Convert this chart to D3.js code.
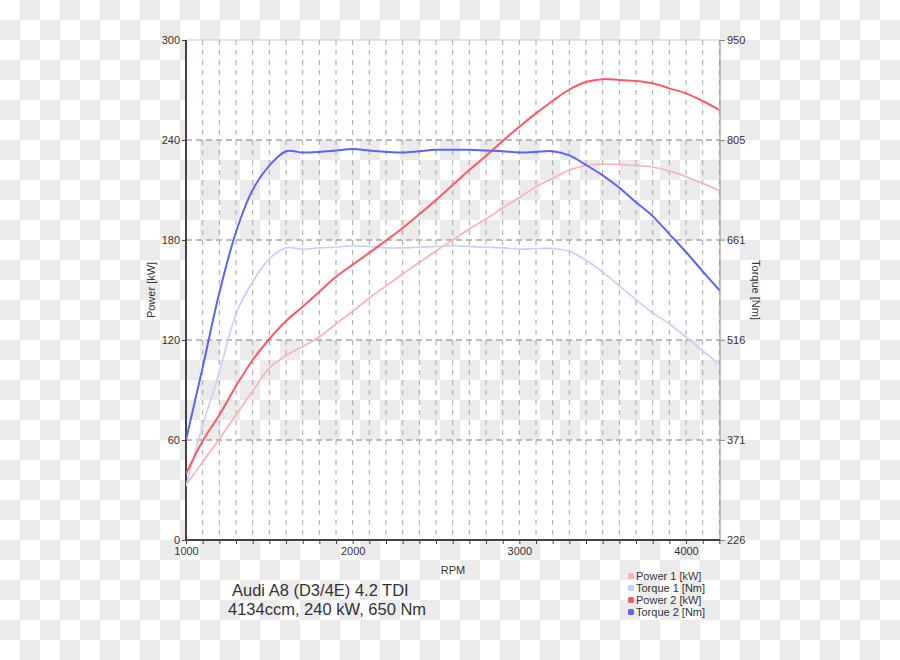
<!DOCTYPE html>
<html><head><meta charset="utf-8">
<script src="https://cdn.jsdelivr.net/npm/d3@7"></script>
<style>html,body{margin:0;padding:0;background:#fff}svg{display:block}text{font-family:"Liberation Sans",Arial,sans-serif;fill:#333}</style>
</head><body>
<script>
const rpm = [1000,1100,1200,1300,1400,1500,1600,1700,1800,1900,2000,2100,2200,2300,2400,2500,2600,2700,2800,2900,3000,3100,3200,3300,3400,3500,3600,3700,3800,3900,4000,4100,4200];
const power1 = [33,46.8,60.6,75,89.4,103.2,110.7,116.1,121.8,129.6,137.1,145.2,152.4,159.6,166.5,173.4,180,186.6,192.6,199.2,205.5,212,217,222,224.7,225.6,225.3,224.7,223.8,221.4,218,214,209.7];
const torque1 = [304,392,469,553,600,633,649,647,649,650,652,651,649,649,650,651,652,651,650,649,647,648,648,644,631,614,594,574,555,539,520,500,481];
const power2 = [39.6,59.4,75,92.4,108,120.6,131.4,140,149,157.9,165.2,172.3,179.7,187.2,195.4,204,213,222,230.4,239.4,248,256,263.4,270.3,274.8,276.5,276,275.4,274,271,268,263.4,258];
const torque2 = [371,476,584,672,733,768,789,787,788,790,792,790,788,787,789,791,791,791,790,789,787,788,789,783,769,754,736,715,695,669,643,615,588];
const powerTicks = [0,60,120,180,240,300];
const torqueTicks = [226,371,516,661,805,950];
const rpmLabels = [1000,2000,3000,4000];
const seriesNames = ["Power 1 [kW]","Torque 1 [Nm]","Power 2 [kW]","Torque 2 [Nm]"];
const seriesColors = ["#ffb0b0","#c4d0ff","#ff5a64","#5a64f5"];
const titleLines = ["Audi A8 (D3/4E) 4.2 TDI","4134ccm, 240 kW, 650 Nm"];

const W=900,H=660;
const svg=d3.select("body").append("svg").attr("width",W).attr("height",H);
const defs=svg.append("defs");
const pat=defs.append("pattern").attr("id","chk").attr("width",40).attr("height",40).attr("patternUnits","userSpaceOnUse");
pat.append("rect").attr("width",40).attr("height",40).attr("fill","#fff");
pat.append("rect").attr("x",20).attr("y",0).attr("width",20).attr("height",20).attr("fill","#ebebeb");
pat.append("rect").attr("x",0).attr("y",20).attr("width",20).attr("height",20).attr("fill","#ebebeb");
svg.append("rect").attr("width",W).attr("height",H).attr("fill","url(#chk)");

const L=186,R=720,T=40,B=540;
const x=d3.scaleLinear().domain([1000,4204]).range([L,R]);
const yP=d3.scaleLinear().domain([0,300]).range([B,T]);
const yT=d3.scaleLinear().domain([226,950]).range([B,T]);

// bands
const bands=[[240,300,0.93],[120,180,1],[0,60,1]];
svg.selectAll("rect.band").data(bands).enter().append("rect")
 .attr("x",L).attr("width",R-L).attr("y",d=>yP(d[1])).attr("height",d=>yP(d[0])-yP(d[1]))
 .attr("fill","#fff").attr("fill-opacity",d=>d[2]);

// vertical grid
const vg=d3.range(1100,4201,100);
svg.append("g").selectAll("line").data(vg).enter().append("line")
 .attr("x1",d=>x(d)).attr("x2",d=>x(d)).attr("y1",T).attr("y2",B)
 .attr("stroke","#a8a8a8").attr("stroke-width",1).attr("stroke-dasharray","5,5");
// horizontal grid
svg.append("g").selectAll("line").data(powerTicks.filter(d=>d>0&&d<300)).enter().append("line")
 .attr("x1",L).attr("x2",R).attr("y1",d=>yP(d)).attr("y2",d=>yP(d))
 .attr("stroke","#a8a8a8").attr("stroke-width",1.3).attr("stroke-dasharray","6,4");
// top border
svg.append("line").attr("x1",L).attr("x2",R).attr("y1",T).attr("y2",T).attr("stroke","#c8c8c8");

// axes
const axL=svg.append("g").attr("transform",`translate(${L},0)`).call(d3.axisLeft(yP).tickValues(powerTicks).tickSize(4).tickPadding(2));
const axR=svg.append("g").attr("transform",`translate(${R},0)`).call(d3.axisRight(yT).tickValues(torqueTicks).tickSize(5).tickPadding(2));
const axB=svg.append("g").attr("transform",`translate(0,${B})`).call(d3.axisBottom(x).tickValues(d3.range(1000,4201,100)).tickSize(4).tickPadding(3).tickFormat(d=>rpmLabels.includes(d)?d:""));
[axL,axR,axB].forEach(a=>{a.selectAll("text").attr("font-size",11).attr("fill","#333").attr("font-family","Liberation Sans, Arial, sans-serif");a.select(".domain").remove();});
axL.selectAll("line").attr("stroke","#444");
axR.selectAll("line").attr("stroke","#888");
axB.selectAll("line").attr("stroke","#444");
svg.append("line").attr("x1",R).attr("x2",R).attr("y1",T).attr("y2",B).attr("stroke","#999").attr("stroke-width",1.2);
svg.append("line").attr("x1",L).attr("x2",L).attr("y1",T).attr("y2",B+1).attr("stroke","#444").attr("stroke-width",2);
svg.append("line").attr("x1",L-1).attr("x2",R).attr("y1",B).attr("y2",B).attr("stroke","#444").attr("stroke-width",2);

// lines
const mk=(ys,vals)=>d3.line().x((d,i)=>x(rpm[i])).y((d,i)=>ys(vals[i])).curve(d3.curveCatmullRom.alpha(0.5))(vals);
const clip=defs.append("clipPath").attr("id","pc");clip.append("rect").attr("x",L).attr("y",T).attr("width",R-L).attr("height",B-T);
const g=svg.append("g").attr("clip-path","url(#pc)");
const series=[[yP,power1,1.6],[yT,torque1,1.6],[yP,power2,2],[yT,torque2,2]];
g.selectAll("path").data(series).enter().append("path")
 .attr("d",d=>mk(d[0],d[1])).attr("fill","none")
 .attr("stroke",(d,i)=>seriesColors[i]).attr("stroke-width",d=>d[2]);

// axis titles
svg.append("text").attr("transform",`translate(155,290) rotate(-90)`).attr("text-anchor","middle").attr("font-size",11).text("Power [kW]");
svg.append("text").attr("transform",`translate(752,290) rotate(90)`).attr("text-anchor","middle").attr("font-size",11).text("Torque [Nm]");
svg.append("text").attr("x",453).attr("y",574).attr("text-anchor","middle").attr("font-size",11).text("RPM");

// title
svg.selectAll("text.tl").data(titleLines).enter().append("text")
 .attr("x",(d,i)=>i===0?232:228).attr("y",(d,i)=>596+i*19).attr("font-size",16.5).text(d=>d);

// legend
const lg=svg.append("g");
seriesNames.forEach((n,i)=>{
 lg.append("rect").attr("x",628).attr("y",573+i*12).attr("width",6).attr("height",6).attr("rx",1.5).attr("fill",seriesColors[i]);
 lg.append("text").attr("x",636).attr("y",580+i*12).attr("font-size",11).text(n);
});
</script>
</body></html>
